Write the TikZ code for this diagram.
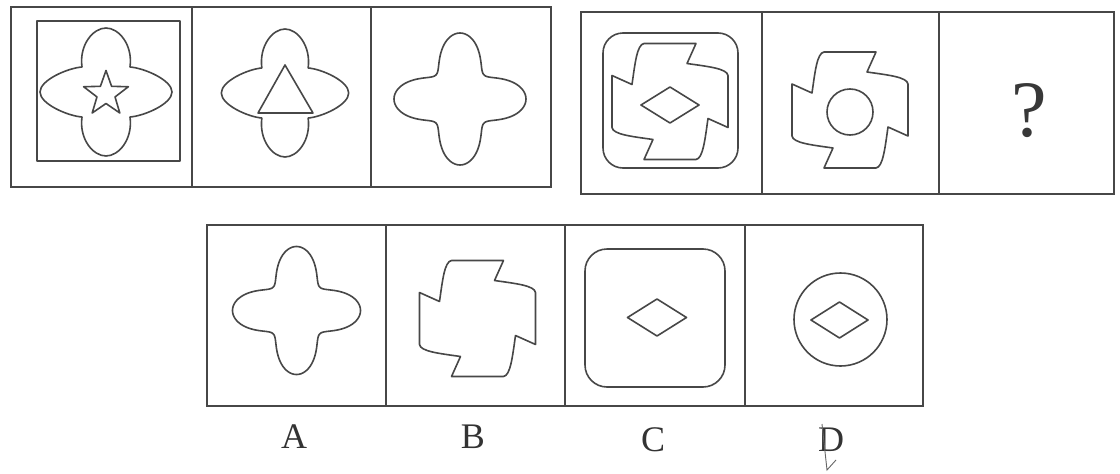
\documentclass[tikz,border=0pt]{standalone}
\usepackage{fontspec}
\setmainfont{Liberation Serif}
\newcommand\qfoilpath{(0,-64) .. controls (13,-64) and (27,-47) .. (24,-25) .. controls (38,-24) and (66,-12) .. (66,0) .. controls (66,12) and (38,24) .. (24,25) .. controls (27,47) and (13,64) .. (0,64) .. controls (-13,64) and (-27,47) .. (-24,25) .. controls (-38,24) and (-66,12) .. (-66,0) .. controls (-66,-12) and (-38,-24) .. (-24,-25) .. controls (-27,-47) and (-13,-64) .. (0,-64) -- cycle}
\newcommand\pinpath{(-26,-58) -- (26,-58) -- (17,-38) .. controls (38,-35) and (57,-33) .. (58,-26) -- (58,26) -- (38,17) .. controls (35,38) and (33,57) .. (26,58) -- (-26,58) -- (-17,38) .. controls (-38,35) and (-57,33) .. (-58,26) -- (-58,-26) -- (-38,-17) .. controls (-35,-38) and (-33,-57) .. (-26,-58) -- cycle}
\begin{document}
\begin{tikzpicture}[x=1pt,y=-1pt,
  ln/.style={line width=1.6pt,draw=black!72,line join=round},
  fr/.style={line width=1.8pt,draw=black!72},
  lbl/.style={font=\fontsize{36}{36}\selectfont,text=black!80,inner sep=0pt}]
\useasboundingbox (0,0) rectangle (1120,474);
\fill[white] (0,0) rectangle (1120,474);

% ---------- top left panel ----------
\draw[fr] (11,7) rectangle (551,187);
\draw[fr] (192,7) -- (192,187);
\draw[fr] (371,7) -- (371,187);

% cell 1
\draw[ln] (37,21) rectangle (180,161);
\begin{scope}[shift={(106,92)}]
  \draw[ln] \qfoilpath;
\end{scope}
\draw[ln,shift={(106,94)}] (-90:23.5) -- (-54:9.5) -- (-18:23.5) -- (18:9.5) -- (54:23.5) -- (90:9.5) -- (126:23.5) -- (162:9.5) -- (198:23.5) -- (234:9.5) -- cycle;

% cell 2
\begin{scope}[shift={(285,93)},xscale=0.965]
  \draw[ln] \qfoilpath;
\end{scope}
\draw[ln] (285,65) -- (313,113) -- (258,113) -- cycle;

% cell 3
\draw[ln,shift={(460,99)}] plot[smooth cycle,domain=0:358,samples=180] (\x:{50+16*cos(4*\x)});

% ---------- top right panel ----------
\draw[fr] (581,12) rectangle (1114,194);
\draw[fr] (762,12) -- (762,194);
\draw[fr] (939,12) -- (939,194);

% cell 4
\draw[ln,rounded corners=20pt] (603,33) rectangle (738,168);
\begin{scope}[shift={(670,101.5)}]
  \draw[ln] \pinpath;
\end{scope}
\draw[ln] (641,105) -- (670,87) -- (699,105) -- (670,123) -- cycle;

% cell 5
\begin{scope}[shift={(850,110)}]
  \draw[ln] \pinpath;
\end{scope}
\draw[ln] (850,112) circle (23);

% cell 6
\node[font=\fontsize{80}{80}\selectfont,text=black!78,inner sep=0pt] (q) at (1029,111) {?};

% ---------- bottom panel ----------
\draw[fr] (207,225) rectangle (923,406);
\draw[fr] (386,225) -- (386,406);
\draw[fr] (565,225) -- (565,406);
\draw[fr] (745,225) -- (745,406);

% A
\draw[ln,shift={(296.5,310.5)},scale=0.97] plot[smooth cycle,domain=0:358,samples=180] (\x:{50+16*cos(4*\x)});
% B
\begin{scope}[shift={(477.5,318.5)}]
  \draw[ln] \pinpath;
\end{scope}
% C
\draw[ln,rounded corners=22pt] (585,249) rectangle (725,387);
\draw[ln] (627.5,317.5) -- (657,299) -- (686.5,317.5) -- (657,336) -- cycle;
% D
\draw[ln] (840.5,319.5) circle (46.5);
\draw[ln] (811,320) -- (839.5,302) -- (868,320) -- (839.5,338) -- cycle;

% labels
\node[lbl] (la) at (294,437) {A};
\node[lbl] (lb) at (473,437) {B};
\node[lbl] (lc) at (653,440) {C};
\node[lbl] (ld) at (831,440) {D};
\draw[black!60,line width=0.9pt] (822,424) -- (827,470) -- (836,460);
\end{tikzpicture}
\end{document}
